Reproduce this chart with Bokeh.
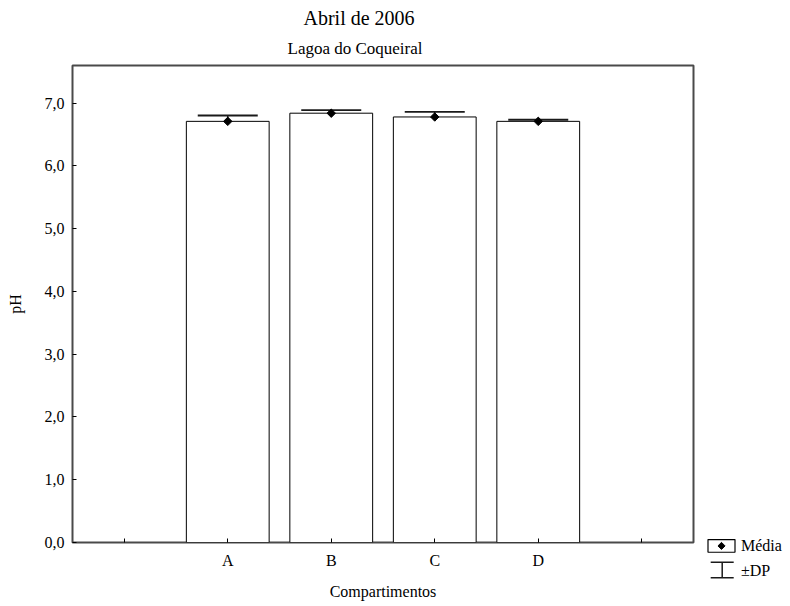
from bokeh.plotting import figure
from bokeh.layouts import row
from bokeh.models import Range1d, FixedTicker, Whisker, ColumnDataSource, Title, TeeHead
from bokeh.core.properties import value
from bokeh.embed import file_html
from bokeh.resources import INLINE
import math

# ---- data ----
categories = ["A", "B", "C", "D"]
ph_mean = [6.71, 6.84, 6.78, 6.71]
ph_sd = [0.093, 0.048, 0.080, 0.026]
x_ticks = [1, 2, 3, 4, 5, 6]
x_tick_labels = ["", "A", "B", "C", "D", ""]
y_ticks = [0, 1, 2, 3, 4, 5, 6, 7]
y_tick_labels = ["0,0", "1,0", "2,0", "3,0", "4,0", "5,0", "6,0", "7,0"]
legend_labels = ["Média", "±DP"]

FONT = "Liberation Serif"
INK = "#1a1a1a"

xpos = [x_ticks[x_tick_labels.index(c)] for c in categories]
src = ColumnDataSource(dict(
    x=xpos,
    mean=ph_mean,
    upper=[m + s for m, s in zip(ph_mean, ph_sd)],
    lower=[m - s for m, s in zip(ph_mean, ph_sd)],
))

# ---------------- main chart ----------------
p = figure(width=700, height=606, output_backend="svg", toolbar_location=None,
           x_range=Range1d(0.5, 6.5), y_range=Range1d(0, 7.6),
           min_border_left=72, min_border_right=7, min_border_bottom=64,
           min_border_top=65, background_fill_color="white",
           border_fill_color="white")
p.frame_align = False
p.grid.visible = False
p.outline_line_color = "#4a4a4a"
p.outline_line_width = 2

# titles (subtitle first so it sits nearest the frame)
p.add_layout(Title(text="Lagoa do Coqueiral", text_font=FONT, text_font_size="17px",
                   text_font_style="normal", text_color="black",
                   align="left", offset=215, standoff=15), "above")
p.add_layout(Title(text="Abril de 2006", text_font=FONT, text_font_size="20px",
                   text_font_style="normal", text_color="black",
                   align="left", offset=231, standoff=2), "above")

bars = p.vbar(x="x", top="mean", bottom=0, width=0.8, source=src,
              fill_color="white", line_color="black", line_width=1)

whisk = Whisker(base="x", upper="upper", lower="lower", source=src,
                line_color=INK, line_width=1.5,
                upper_head=TeeHead(size=60, line_color=INK, line_width=1.8),
                lower_head=TeeHead(size=60, line_color=INK, line_width=1.8))
p.add_layout(whisk)

means = p.scatter(x="x", y="mean", source=src, marker="square", angle=math.pi / 4,
                  size=6, fill_color="black", line_color="black")

# axes
xa = p.xaxis[0]
xa.ticker = FixedTicker(ticks=x_ticks)
xa.major_label_overrides = {t: l for t, l in zip(x_ticks, x_tick_labels)}
xa.axis_label = "Compartimentos"
ya = p.yaxis[0]
ya.ticker = FixedTicker(ticks=y_ticks)
ya.major_label_overrides = {t: l for t, l in zip(y_ticks, y_tick_labels)}
ya.axis_label = "pH"
for ax in (xa, ya):
    ax.axis_line_color = None
    ax.major_tick_in = 4
    ax.major_tick_out = 0
    ax.major_tick_line_color = "black"
    ax.minor_tick_line_color = None
    ax.major_label_text_font = FONT
    ax.major_label_text_font_size = "16px"
    ax.major_label_text_color = "black"
    ax.axis_label_text_font = FONT
    ax.axis_label_text_font_size = "16px"
    ax.axis_label_text_font_style = "normal"
    ax.axis_label_text_color = "black"
xa.major_label_standoff = 9
xa.axis_label_standoff = 11
ya.major_label_standoff = 8
ya.axis_label_standoff = 18

# ---------------- legend panel (right) ----------------
# a pixel-scaled side panel: 1 unit = 1 px, y grows downwards
lg = figure(width=90, height=606, output_backend="svg", toolbar_location=None,
            x_range=Range1d(0, 90), y_range=Range1d(606, 0),
            x_axis_type=None, y_axis_type=None, min_border=0,
            background_fill_color="white", border_fill_color="white")
lg.frame_align = False
lg.grid.visible = False
lg.outline_line_color = None

row1_y, row2_y = 545.4, 569.5
sym_x, text_x = 21.0, 40.5

# "Média" symbol: box with a diamond
lg.rect(x=[sym_x], y=[row1_y], width=27, height=12.7,
        fill_color="white", line_color="black", line_width=1.2)
lg.scatter(x=[sym_x], y=[row1_y], marker="square", angle=math.pi / 4,
           size=5, fill_color="black", line_color="black")

# "±DP" symbol: error-bar shape
lg.add_layout(Whisker(base=value(sym_x + 0.7), upper=value(row2_y - 7.8),
                      lower=value(row2_y + 7.8), dimension="height",
                      line_color=INK, line_width=1.5,
                      upper_head=TeeHead(size=23, line_color=INK, line_width=1.5),
                      lower_head=TeeHead(size=23, line_color=INK, line_width=1.5)))

lg.text(x=[text_x, text_x], y=[row1_y, row2_y], text=legend_labels,
        text_baseline="middle", text_align="left", text_color="black",
        text_font=value(FONT), text_font_size="16px")

layout = row(p, lg, spacing=0)
open("out.html", "w").write(file_html(layout, INLINE))
